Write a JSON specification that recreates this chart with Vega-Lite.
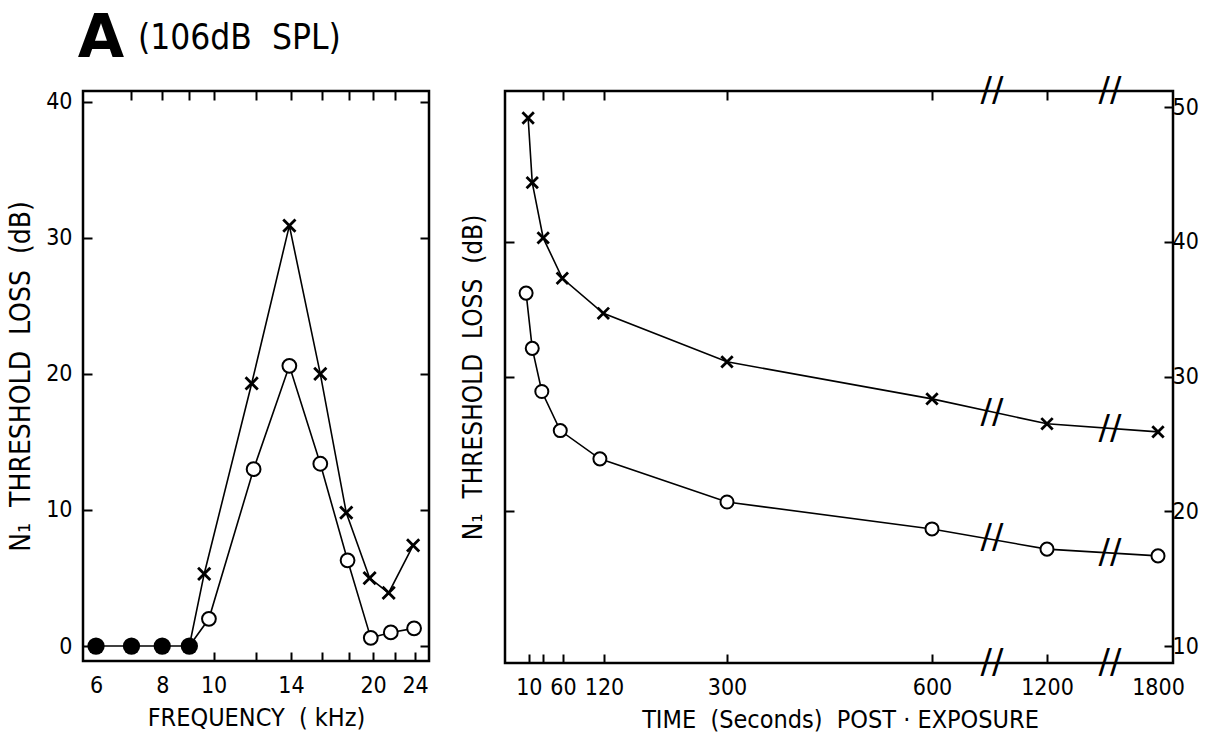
{
  "$schema": "https://vega.github.io/schema/vega-lite/v6.json",
  "background": "white",
  "padding": {"left": 6, "top": 7, "right": 5, "bottom": 5},
  "config": {
    "font": "DejaVu Sans Condensed, Liberation Sans Narrow, sans-serif",
    "view": {"stroke": "black", "strokeWidth": 2.5},
    "axis": {
      "domain": false, "grid": false,
      "tickColor": "black", "tickWidth": 2, "tickSize": -9,
      "labelColor": "black", "labelFontSize": 23, "labelPadding": 20,
      "titleColor": "black", "titleFontSize": 25, "titleFontWeight": "normal",
      "labelFlush": false, "labelOverlap": false, "format": "d"
    }
  },
  "datasets": {
    "freq": [
      {"series": "f", "freq": 6, "loss": 0},
      {"series": "f", "freq": 7, "loss": 0},
      {"series": "f", "freq": 8, "loss": 0},
      {"series": "f", "freq": 9, "loss": 0},
      {"series": "x", "freq": 9, "loss": 0},
      {"series": "x", "freq": 9.6, "loss": 5.3},
      {"series": "x", "freq": 11.8, "loss": 19.3},
      {"series": "x", "freq": 13.9, "loss": 30.9},
      {"series": "x", "freq": 15.9, "loss": 20.0},
      {"series": "x", "freq": 17.8, "loss": 9.8},
      {"series": "x", "freq": 19.7, "loss": 5.0},
      {"series": "x", "freq": 21.4, "loss": 3.9},
      {"series": "x", "freq": 23.8, "loss": 7.4},
      {"series": "o", "freq": 9, "loss": 0},
      {"series": "o", "freq": 9.8, "loss": 2.0},
      {"series": "o", "freq": 11.9, "loss": 13.0},
      {"series": "o", "freq": 13.9, "loss": 20.6},
      {"series": "o", "freq": 15.9, "loss": 13.4},
      {"series": "o", "freq": 17.9, "loss": 6.3},
      {"series": "o", "freq": 19.8, "loss": 0.6},
      {"series": "o", "freq": 21.6, "loss": 1.0},
      {"series": "o", "freq": 23.9, "loss": 1.3}
    ],
    "time": [
      {"series": "x", "time": 9, "loss": 49.2},
      {"series": "x", "time": 15, "loss": 44.4},
      {"series": "x", "time": 31, "loss": 40.3},
      {"series": "x", "time": 59, "loss": 37.3},
      {"series": "x", "time": 119, "loss": 34.7},
      {"series": "x", "time": 300, "loss": 31.1},
      {"series": "x", "time": 600, "loss": 28.35},
      {"series": "x", "time": 1200, "loss": 26.5},
      {"series": "x", "time": 1800, "loss": 25.9},
      {"series": "o", "time": 6, "loss": 36.2},
      {"series": "o", "time": 15, "loss": 32.1},
      {"series": "o", "time": 29, "loss": 28.9},
      {"series": "o", "time": 56, "loss": 26.0},
      {"series": "o", "time": 114, "loss": 23.9},
      {"series": "o", "time": 300, "loss": 20.7},
      {"series": "o", "time": 600, "loss": 18.7},
      {"series": "o", "time": 1200, "loss": 17.2},
      {"series": "o", "time": 1800, "loss": 16.7}
    ],
    "breaks": [
      {"time": 913, "loss": 27.3},
      {"time": 913, "loss": 18.0},
      {"time": 1540, "loss": 26.1},
      {"time": 1540, "loss": 16.9},
      {"time": 913, "loss": 51.2},
      {"time": 1540, "loss": 51.2},
      {"time": 913, "loss": 8.75},
      {"time": 1540, "loss": 8.75}
    ]
  },
  "spacing": 26,
  "hconcat": [
    {
      "width": 346,
      "height": 570,
      "layer": [
        {
          "data": {"name": "freq"},
          "mark": {"type": "line", "color": "black", "strokeWidth": 1.6},
          "encoding": {
            "x": {"field": "freq", "type": "quantitative",
              "scale": {"type": "log", "domain": [5.67, 25.5], "nice": false},
              "axis": {"orient": "bottom", "values": [6, 8, 10, 12, 14, 16, 18, 20, 22, 24],
                "labelExpr": "indexof([6, 8, 10, 14, 20, 24], datum.value) >= 0 ? datum.label : ''",
                "tickOpacity": {"condition": {"test": "datum.value < 9", "value": 0}, "value": 1},
                "labelPadding": 22,
                "title": "FREQUENCY\u00a0\u00a0(\u00a0kHz)", "titlePadding": 8}},
            "y": {"field": "loss", "type": "quantitative",
              "scale": {"domain": [-1.1, 40.8], "nice": false, "zero": false},
              "axis": {"orient": "left", "values": [0, 10, 20, 30, 40], "title": "N₁\u00a0\u00a0THRESHOLD\u00a0\u00a0LOSS\u00a0\u00a0(dB)", "titleFontSize": 28, "titlePadding": 10}},
            "detail": {"field": "series"}
          }
        },
        {
          "data": {"name": "freq"},
          "transform": [{"filter": "datum.series == 'f'"}],
          "mark": {"type": "point", "shape": "circle", "filled": true, "color": "black", "opacity": 1, "size": 300},
          "encoding": {
            "x": {"field": "freq", "type": "quantitative",
              "axis": {"orient": "top", "values": [7, 8, 9, 10, 12, 14, 16, 18, 20, 22], "labels": false, "title": null}},
            "y": {"field": "loss", "type": "quantitative",
              "axis": {"orient": "right", "values": [0, 10, 20, 30, 40], "labels": false, "title": null}}
          }
        },
        {
          "data": {"name": "freq"},
          "transform": [{"filter": "datum.series == 'o' && datum.freq > 9"}],
          "mark": {"type": "point", "shape": "circle", "filled": true, "fill": "white", "stroke": "black", "strokeWidth": 2, "opacity": 1, "size": 190},
          "encoding": {
            "x": {"field": "freq", "type": "quantitative", "axis": null},
            "y": {"field": "loss", "type": "quantitative", "axis": null}
          }
        },
        {
          "data": {"name": "freq"},
          "transform": [{"filter": "datum.series == 'x' && datum.freq > 9"}],
          "mark": {"type": "point", "shape": "M-1,-1L1,1M1,-1L-1,1", "filled": false, "stroke": "black", "strokeWidth": 2.8, "opacity": 1, "size": 150},
          "encoding": {
            "x": {"field": "freq", "type": "quantitative", "axis": null},
            "y": {"field": "loss", "type": "quantitative", "axis": null}
          }
        },
        {
          "data": {"values": [{"label": "A"}]},
          "mark": {"type": "text", "font": "DejaVu Sans", "fontSize": 60, "fontWeight": "bold", "align": "center", "baseline": "alphabetic", "color": "black"},
          "encoding": {
            "x": {"datum": 6.13, "type": "quantitative", "axis": null},
            "y": {"datum": 43.3, "type": "quantitative", "axis": null},
            "text": {"field": "label"}
          }
        },
        {
          "data": {"values": [{"label": "(106dB\u00a0\u00a0SPL)"}]},
          "mark": {"type": "text", "fontSize": 35, "align": "left", "baseline": "alphabetic", "color": "black"},
          "encoding": {
            "x": {"datum": 7.2, "type": "quantitative", "axis": null},
            "y": {"datum": 43.9, "type": "quantitative", "axis": null},
            "text": {"field": "label"}
          }
        }
      ],
      "resolve": {"axis": {"x": "independent", "y": "independent"}}
    },
    {
      "width": 668,
      "height": 572,
      "layer": [
        {
          "data": {"name": "time"},
          "mark": {"type": "line", "color": "black", "strokeWidth": 1.6},
          "encoding": {
            "x": {"field": "time", "type": "quantitative",
              "scale": {"domain": [0, 600, 1200, 1800], "range": [17, 427, 542, 653], "nice": false, "zero": false},
              "axis": {"orient": "bottom", "values": [10, 30, 60, 120, 300, 600, 1200, 1800],
                "labelExpr": "datum.value == 30 ? '' : datum.label",
                "tickOpacity": {"condition": {"test": "datum.value == 1800", "value": 0}, "value": 1},
                "labelPadding": 22,
                "title": "TIME\u00a0\u00a0(Seconds)\u00a0\u00a0POST\u00a0·\u00a0EXPOSURE", "titlePadding": 8}},
            "y": {"field": "loss", "type": "quantitative",
              "scale": {"domain": [8.75, 51.2], "nice": false, "zero": false},
              "axis": {"orient": "left", "values": [20, 30, 40], "labels": false, "title": "N₁\u00a0\u00a0THRESHOLD\u00a0\u00a0LOSS\u00a0\u00a0(dB)", "titleFontSize": 26, "titlePadding": 18}},
            "detail": {"field": "series"}
          }
        },
        {
          "data": {"name": "time"},
          "transform": [{"filter": "datum.series == 'o'"}],
          "mark": {"type": "point", "shape": "circle", "filled": true, "fill": "white", "stroke": "black", "strokeWidth": 2, "opacity": 1, "size": 170},
          "encoding": {
            "x": {"field": "time", "type": "quantitative",
              "axis": {"orient": "top", "values": [30, 60, 120, 300, 600, 1200], "labels": false, "title": null}},
            "y": {"field": "loss", "type": "quantitative",
              "axis": {"orient": "right", "values": [10, 20, 30, 40, 50], "labelPadding": 8, "title": null}}
          }
        },
        {
          "data": {"name": "time"},
          "transform": [{"filter": "datum.series == 'x'"}],
          "mark": {"type": "point", "shape": "M-1,-1L1,1M1,-1L-1,1", "filled": false, "stroke": "black", "strokeWidth": 2.8, "opacity": 1, "size": 130},
          "encoding": {
            "x": {"field": "time", "type": "quantitative", "axis": null},
            "y": {"field": "loss", "type": "quantitative", "axis": null}
          }
        },
        {
          "data": {"name": "breaks"},
          "mark": {"type": "text", "text": "//", "fontSize": 34, "font": "DejaVu Sans", "align": "center", "baseline": "middle", "color": "black"},
          "encoding": {
            "x": {"field": "time", "type": "quantitative", "axis": null},
            "y": {"field": "loss", "type": "quantitative", "axis": null}
          }
        }
      ],
      "resolve": {"axis": {"x": "independent", "y": "independent"}}
    }
  ]
}
